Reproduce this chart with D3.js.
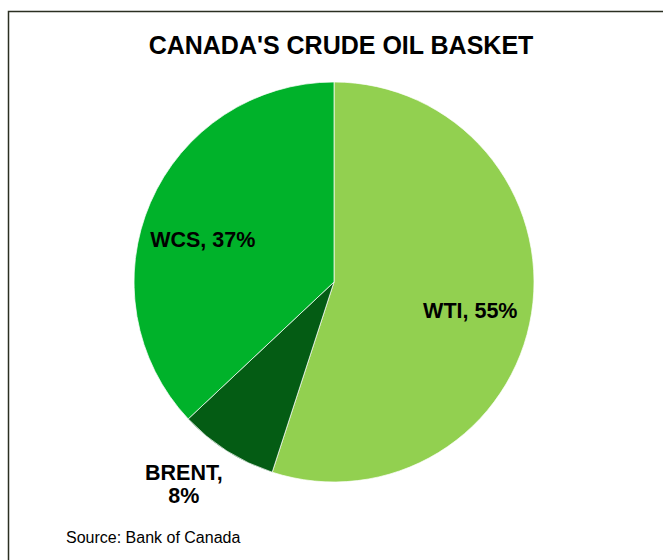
<!DOCTYPE html>
<html>
<head>
<meta charset="utf-8">
<script src="https://cdn.jsdelivr.net/npm/d3@7"></script>
<style>
  body { margin: 0; background: #fff; }
  svg text { font-family: "Liberation Sans", Arial, sans-serif; }
</style>
</head>
<body>
<div id="chart"></div>
<script>
const categories = ["WTI", "BRENT", "WCS"];
const shares = [55, 8, 37];
const colors = ["#92D050", "#045C14", "#00B22A"];

function main() {
    const width = 663, height = 560;
    const cx = 334, cy = 282, r = 200;
    const labelSize = 21.5;

    const svg = d3.select("#chart")
        .append("svg")
            .attr("width", width)
            .attr("height", height);

    // frame (only top/left edges fall inside the window)
    svg.append("rect")
        .attr("x", 8.5)
        .attr("y", 11.5)
        .attr("width", 700)
        .attr("height", 600)
        .attr("fill", "none")
        .attr("stroke", "#2b2f22")
        .attr("stroke-width", 1.5);

    svg.append("text")
        .attr("x", 341)
        .attr("y", 54)
        .attr("text-anchor", "middle")
        .attr("font-size", "25px")
        .attr("font-weight", "bold")
        .text("CANADA'S CRUDE OIL BASKET");

    const pie = d3.pie().sort(null).value(d => d);
    const arcs = pie(shares);
    const arc = d3.arc().innerRadius(0).outerRadius(r);

    const g = svg.append("g")
        .attr("transform", `translate(${cx}, ${cy})`);

    g.selectAll("path")
        .data(arcs)
        .enter()
        .append("path")
            .attr("d", arc)
            .attr("fill", (d, i) => colors[i])
            .attr("stroke", "#fff")
            .attr("stroke-width", 0.7);

    // label placement: radius factor along mid-angle, then a nudge
    const labelPos = [
        { radius: 0.69, dx: 0, dy: 7 },
        { radius: 1.0, dx: -43, dy: 33 },
        { radius: 0.715, dx: 0, dy: 14 }
    ];

    arcs.forEach((d, i) => {
        const a = (d.startAngle + d.endAngle) / 2;
        const rr = r * labelPos[i].radius;
        const x = Math.sin(a) * rr + labelPos[i].dx;
        const y = -Math.cos(a) * rr + labelPos[i].dy;
        const t = g.append("text")
            .attr("text-anchor", "middle")
            .attr("font-size", labelSize + "px")
            .attr("font-weight", "bold");
        if (categories[i] === "BRENT") {
            t.append("tspan").attr("x", x).attr("y", y - 4).text(categories[i] + ",");
            t.append("tspan").attr("x", x).attr("y", y + 19).text(shares[i] + "%");
        } else {
            t.attr("x", x).attr("y", y + 7.5).text(`${categories[i]}, ${shares[i]}%`);
        }
    });

    svg.append("text")
        .attr("x", 66)
        .attr("y", 543)
        .attr("font-size", "16px")
        .text("Source: Bank of Canada");
}

main();
</script>
</body>
</html>
